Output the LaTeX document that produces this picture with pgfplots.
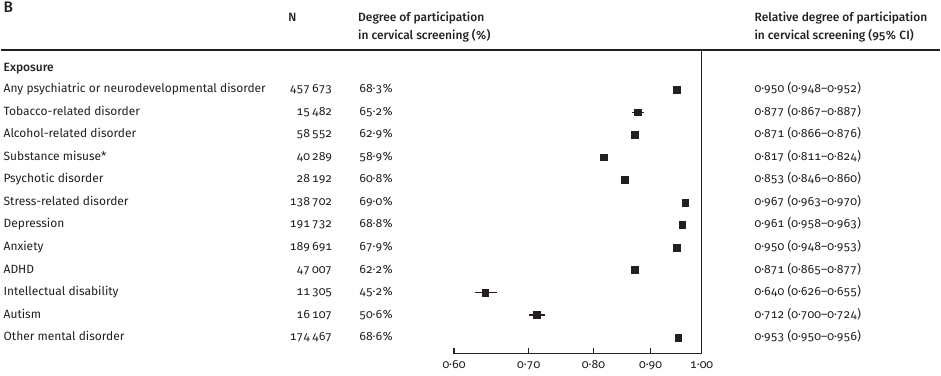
\documentclass[border=0pt]{standalone}
\usepackage{fontspec}
\setmainfont{Fira Sans}[Numbers={OldStyle,Monospaced}, BoldFont={Fira Sans Medium}]
\usepackage{pgfplots}
\usepackage{pgfplotstable}
\pgfplotsset{compat=1.18}
\definecolor{ink}{HTML}{231F20}

\pgfplotstableread{
x     y    lo    hi
0.950 -1   0.948 0.952
0.877 -2   0.867 0.887
0.871 -3   0.866 0.876
0.817 -4   0.811 0.824
0.853 -5   0.846 0.860
0.967 -6   0.963 0.970
0.961 -7   0.958 0.963
0.950 -8   0.948 0.953
0.871 -9   0.865 0.877
0.640 -10  0.626 0.655
0.712 -11  0.700 0.724
0.953 -12  0.950 0.956
}\data

\newcommand\fs{\fontsize{9}{10.5}\selectfont}

\begin{document}
\fs
\begin{tikzpicture}[x=0.75pt,y=0.75pt,
  every node/.style={inner sep=0pt, outer sep=0pt, text=ink, font=\fs},
  lab/.style={anchor=base west},
  num/.style={anchor=base east}]
\path (0,0) rectangle (941,376);

\begin{axis}[
  at={(340.5pt,16.5pt)}, anchor=south west,
  scale only axis, width=186pt, height=228.75pt,
  xmode=log, xmin=0.6, xmax=1.0,
  ymin=-12.71, ymax=0.8186,
  axis x line*=bottom, axis y line*=right,
  ytick=\empty,
  xtick={0.6,0.7,0.8,0.9,1.0},
  xticklabels={0·60,0·70,0·80,0·90,1·00},
  minor x tick num=0,
  tick align=inside,
  major tick length=4.5pt,
  axis line style={ink, line width=0.9pt},
  xtick style={ink, line width=0.9pt},
  xticklabel style={font=\fs, text=ink, anchor=base, yshift=-11pt},
  clip=false,
]
\addplot[only marks, mark=square*, mark size=2.5pt, ink,
  error bars/.cd, x dir=both, x explicit,
  error bar style={line width=1pt, ink}, error mark=none]
  table[x=x, y=y,
        x error plus expr=\thisrow{hi}-\thisrow{x},
        x error minus expr=\thisrow{x}-\thisrow{lo}] {\data};
\end{axis}

\draw[ink, line width=1pt] (0,326) -- (941,326);

% headers
\node[lab, font=\fontsize{11.5}{12}\selectfont\bfseries] at (3,363) {B};
\node[lab, font=\fs\bfseries] at (288,354) {N};
\node[lab, font=\fs\bfseries] at (358,354) {Degree of participation};
\node[lab, font=\fs\bfseries] at (358,336.5) {in cervical screening (\%)};
\node[lab, font=\fs\bfseries] at (755,354) {Relative degree of participation};
\node[lab, font=\fs\bfseries] at (755,336.5) {in cervical screening (95\% CI)};
\node[lab, font=\fs\bfseries] at (3,304) {Exposure};

% rows
\newcommand\row[5]{%
  \node[lab] at (3,#1) {#2};
  \node[num] at (332,#1) {#3};
  \node[num] at (393,#1) {#4};
  \node[lab] at (755,#1) {#5};}
\row{283}{Any psychiatric or neurodevelopmental disorder}{457\,673}{68·3\%}{0·950 (0·948–0·952)}
\row{260.5}{Tobacco-related disorder}{15\,482}{65·2\%}{0·877 (0·867–0·887)}
\row{237.9}{Alcohol-related disorder}{58\,552}{62·9\%}{0·871 (0·866–0·876)}
\row{215.4}{Substance misuse*}{40\,289}{58·9\%}{0·817 (0·811–0·824)}
\row{192.8}{Psychotic disorder}{28\,192}{60·8\%}{0·853 (0·846–0·860)}
\row{170.3}{Stress-related disorder}{138\,702}{69·0\%}{0·967 (0·963–0·970)}
\row{147.7}{Depression}{191\,732}{68·8\%}{0·961 (0·958–0·963)}
\row{125.2}{Anxiety}{189\,691}{67·9\%}{0·950 (0·948–0·953)}
\row{102.6}{ADHD}{47\,007}{62·2\%}{0·871 (0·865–0·877)}
\row{80.1}{Intellectual disability}{11\,305}{45·2\%}{0·640 (0·626–0·655)}
\row{57.5}{Autism}{16\,107}{50·6\%}{0·712 (0·700–0·724)}
\row{35}{Other mental disorder}{174\,467}{68·6\%}{0·953 (0·950–0·956)}
\end{tikzpicture}
\end{document}
